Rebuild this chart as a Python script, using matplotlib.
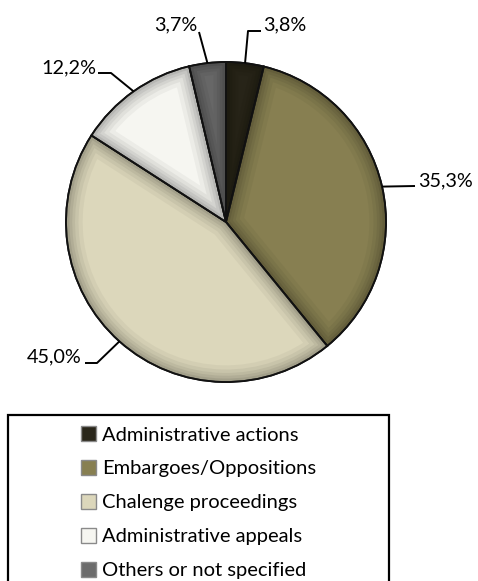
import numpy as np
import matplotlib.pyplot as plt
from matplotlib.patches import Rectangle, Patch, PathPatch
from matplotlib.colors import to_rgb

# ---- data ----
categories = ["Administrative actions", "Embargoes/Oppositions",
              "Chalenge proceedings", "Administrative appeals",
              "Others or not specified"]
shares = [3.8, 35.3, 45.0, 12.2, 3.7]
colors = ["#29261a", "#877f51", "#dcd7bb", "#f6f6f1", "#6c6c6c"]
labels = [f"{v:.1f}%".replace(".", ",") for v in shares]

W, H = 478, 581
FONT = "Lato"

fig = plt.figure(figsize=(W / 100, H / 100), dpi=100)
ax = fig.add_axes([0, 0, 1, 1])


def Y(y):
    """Convert a top-down pixel row to data y."""
    return H - y


cx, cy, R = 226, Y(222), 160

wedges, _ = ax.pie(shares, colors=colors, startangle=90, counterclock=False,
                   center=(cx, cy), radius=R, frame=True,
                   wedgeprops=dict(edgecolor="#111111", linewidth=1.3))
ax.set_xlim(0, W)
ax.set_ylim(0, H)
ax.set_aspect("equal")
ax.axis("off")


def shade(c, f):
    r, g, b = to_rgb(c)
    if f < 0:
        return (r * (1 + f), g * (1 + f), b * (1 + f))
    return (r + (1 - r) * f, g + (1 - g) * f, b + (1 - b) * f)


# bevel: soft darker rim inside each slice
for w, c in zip(wedges, colors):
    path = w.get_path()
    for lw, a in [(24, 0.08), (18, 0.10), (13, 0.12), (9, 0.15), (5, 0.2)]:
        p = PathPatch(path, fill=False, edgecolor=shade(c, -0.5),
                      linewidth=lw, alpha=a, transform=w.get_transform())
        ax.add_patch(p)
        p.set_clip_path(w)
    ax.add_patch(PathPatch(path, fill=False, edgecolor="#111111",
                           linewidth=1.3, transform=w.get_transform()))

# ---- percentage labels with leader lines ----
# (elbow, end of line, text anchor, alignment) in pixel rows
layout = [
    ((248, 31), (261, 31), (263, 30), "left"),
    (None, (415, 186), (418, 186), "left"),
    ((97, 363), (85, 363), (82, 362), "right"),
    ((111, 73), (98, 73), (96, 73), "right"),
    ((199, 32), (199, 32), (197, 30), "right"),
]
cum = np.cumsum([0] + shares[:-1])
for v, start, lab, (elb, end, tpos, ha) in zip(shares, cum, labels, layout):
    mid = np.deg2rad((start + v / 2) / 100 * 360)
    px, py = cx + R * np.sin(mid), cy + R * np.cos(mid)
    xs, ys = [px], [py]
    if elb is not None:
        xs.append(elb[0]); ys.append(Y(elb[1]))
    xs.append(end[0]); ys.append(Y(end[1]))
    ax.plot(xs, ys, color="black", lw=1.4, solid_capstyle="butt", zorder=5)
    ax.text(tpos[0], Y(tpos[1]), lab, ha=ha, va="baseline",
            fontsize=14.3, family=FONT, color="black", zorder=6)

# ---- legend ----
ax.add_patch(Rectangle((8, Y(600)), 381, 600 - 415, fill=False,
                       edgecolor="black", linewidth=1.6, zorder=4))
handles = [Patch(facecolor=c, edgecolor="#8a8a8a", linewidth=1.0)
           for c in colors]
leg = fig.legend(handles, categories, loc="upper left",
                 bbox_to_anchor=(65 / W, 1 - 410 / H),
                 frameon=False, prop=dict(family=FONT, size=14.5),
                 handlelength=0.75, handleheight=0.75, handletextpad=0.3,
                 labelspacing=0.82, borderpad=0.3)

fig.savefig("out.png", dpi=100)
